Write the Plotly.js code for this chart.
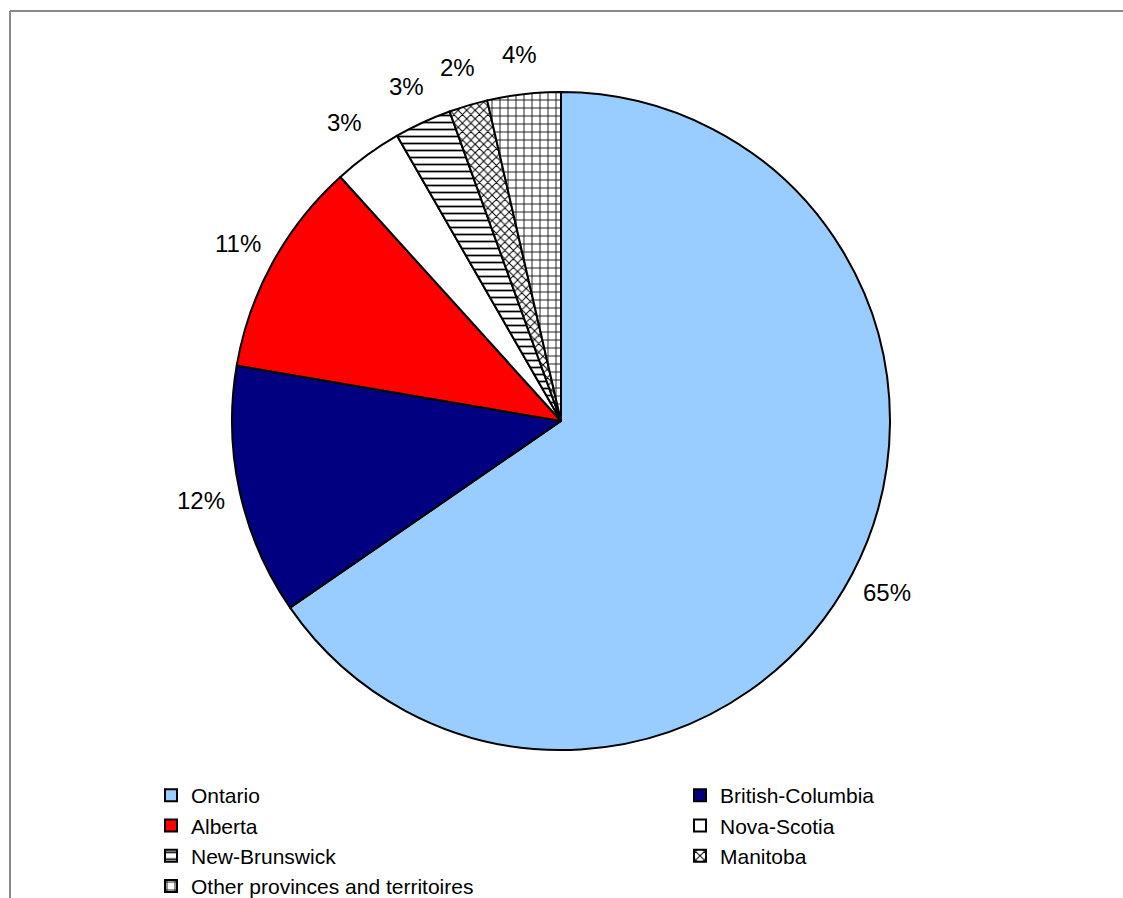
<!DOCTYPE html>
<html>
<head>
<meta charset="utf-8">
<script src="https://cdn.plot.ly/plotly-3.0.1.min.js"></script>
<style>html,body{margin:0;padding:0;background:#fff;}#chart{width:1123px;height:898px;}</style>
</head>
<body>
<div id="chart"></div>
<script>
var provinces = ["Ontario", "British-Columbia", "Alberta", "Nova-Scotia", "New-Brunswick", "Manitoba", "Other provinces and territoires"];
var shares = [65.4, 12.3, 10.6, 3.4, 2.8, 1.9, 3.6];
var colors = ["#99CCFF", "#000080", "#FF0000", "#FFFFFF", "#FFFFFF", "#FFFFFF", "#FFFFFF"];
var patterns = ["", "", "", "", "-", "x", "+"];

var W = 1123, H = 898;
var cx = 561, cy = 421, R = 329;
var FONT = "Liberation Sans, Arial, sans-serif";

var trace = {
  type: "pie",
  labels: provinces,
  values: shares,
  sort: false,
  direction: "clockwise",
  rotation: 0,
  textinfo: "none",
  marker: {
    colors: colors,
    line: {color: "#000", width: 2},
    pattern: {shape: patterns, fgcolor: "#000", bgcolor: "#fff", size: [8, 8, 8, 8, 7, 6, 8], solidity: [0.2, 0.2, 0.2, 0.2, 0.25, 0.3, 0.2]}
  },
  domain: {x: [(cx - R) / W, (cx + R) / W], y: [1 - (cy + R) / H, 1 - (cy - R) / H]},
  hoverinfo: "label+percent"
};

// percentage labels placed along each slice's mid-angle, outside the pie
var total = shares.reduce(function (a, b) { return a + b; }, 0);
var annotations = [];
var cum = 0;
for (var i = 0; i < shares.length; i++) {
  var mid = (cum + shares[i] / 2) / total * 2 * Math.PI; // clockwise from top
  cum += shares[i];
  var rl = R * 1.12;
  var px = cx + rl * Math.sin(mid);
  var py = cy - rl * Math.cos(mid);
  annotations.push({
    xref: "paper", yref: "paper",
    x: px / W, y: 1 - py / H,
    xanchor: "center", yanchor: "middle",
    text: Math.round(shares[i] / total * 100) + "%",
    showarrow: false,
    font: {family: FONT, size: 24, color: "#000"}
  });
}

var layout = {
  width: W, height: H,
  margin: {l: 0, r: 0, t: 0, b: 0, autoexpand: false},
  paper_bgcolor: "#fff",
  font: {family: FONT, size: 24, color: "#000"},
  showlegend: true,
  legend: {
    orientation: "h",
    x: 151 / W, xanchor: "left",
    y: 1 - 775 / H, yanchor: "top",
    entrywidth: 484, entrywidthmode: "pixels",
    font: {family: FONT, size: 21, color: "#000"},
    itemwidth: 30,
    bgcolor: "rgba(0,0,0,0)",
    traceorder: "normal"
  },
  annotations: annotations,
  shapes: [
    {type: "line", xref: "paper", yref: "paper", x0: 10 / W, x1: 1, y0: 1 - 11 / H, y1: 1 - 11 / H, line: {color: "#888", width: 2}},
    {type: "line", xref: "paper", yref: "paper", x0: 10 / W, x1: 10 / W, y0: 0, y1: 1 - 11 / H, line: {color: "#888", width: 2}}
  ]
};

Plotly.newPlot("chart", [trace], layout, {displayModeBar: false, staticPlot: true});
</script>
</body>
</html>
